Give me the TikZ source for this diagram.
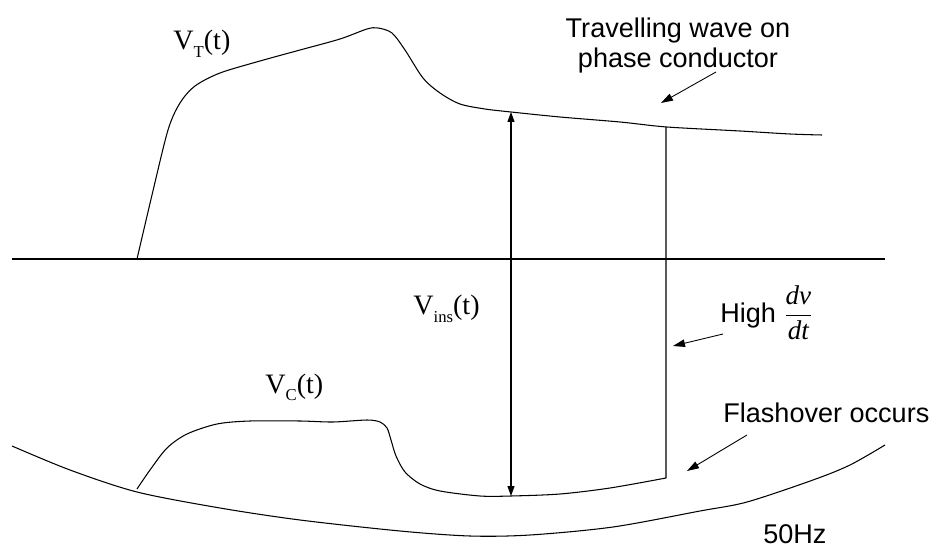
\documentclass[tikz,border=0pt]{standalone}
\usepackage{fontspec}
\setmainfont{Liberation Sans}
\newfontfamily\wavefont{Liberation Serif}
\usepackage{tikz}
\usetikzlibrary{arrows.meta}

\newcommand{\lowsub}[1]{\raisebox{-4pt}{\fontsize{9.5pt}{10pt}\selectfont #1}}

\begin{document}
\begin{tikzpicture}[x=0.02cm, y=-0.02cm,
    curve/.style={line width=0.6pt},
    pointer/.style={line width=0.5pt, -{Triangle[length=0.24cm, width=0.15cm]}},
    insarrow/.style={line width=0.6pt, {Triangle[length=0.2cm, width=0.14cm]}-{Triangle[length=0.2cm, width=0.14cm]}},
    txt/.style={font=\fontsize{15.4pt}{17.6pt}\selectfont, inner sep=0pt},
    vlabel/.style={font=\wavefont\fontsize{16pt}{18pt}\selectfont, inner sep=0pt, anchor=base west}]

  \useasboundingbox (0,0) rectangle (933,547);

  % Time axis
  \coordinate (axl) at (12,259);
  \coordinate (axr) at (885,259);
  \draw[curve] (axl) -- (axr);

  % Travelling wave on phase conductor
  \draw[curve] plot[smooth] coordinates {(137,259) (152,195) (168,130) (180,103)
      (195,86) (220,73) (260,61) (300,50) (340,39) (367,29) (378,28) (392,33)
      (405,50) (423,78) (440,93) (460,104) (485,109) (511,112) (560,117)
      (620,122) (667,127) (740,131) (790,134) (822,135)};
  \node[vlabel] (vt) at (173,50) {V\lowsub{T}(t)};

  % Voltage at the tower top, flashover jump
  \draw[curve] plot[smooth] coordinates {(137,489) (150,470) (167,448) (187,434)
      (217,424) (250,421) (300,421) (333,422) (367,420) (380,422) (387,428)
      (391,440) (396,456) (405,472) (420,484) (440,491) (480,496) (511,496)
      (560,494) (610,488) (666,478)} -- (666,127);
  \node[vlabel] (vc) at (265,393) {V\lowsub{C}(t)};

  % 50Hz power frequency voltage
  \draw[curve] plot[smooth] coordinates {(12,446) (70,470) (137,492) (220,508)
      (300,520) (400,531) (470,536) (530,535) (613,527) (700,511) (747,502)
      (813,480) (850,465) (885,445)};
  \node[txt, anchor=base west] (hz) at (763,543) {50Hz};

  % Voltage across insulator
  \coordinate (instop) at (511,112);
  \coordinate (insbot) at (511,496);
  \draw[insarrow] (instop) -- (insbot);
  \node[vlabel] (vins) at (413,315) {V\lowsub{ins}(t)};

  % Labels with pointers
  \node[txt, align=center, anchor=base] (tw) at (678,68) {Travelling wave on\\phase conductor};
  \coordinate (tw1) at (716,72);
  \coordinate (tw2) at (661,103);
  \draw[pointer] (tw1) -- (tw2);

  \node[txt, anchor=base west] (hdv) at (720,322)
      {High $\displaystyle\frac{\hbox{\wavefont\itshape dv}}{\hbox{\wavefont\itshape dt}}$};
  \coordinate (hdv1) at (723,334);
  \coordinate (hdv2) at (673,346);
  \draw[pointer] (hdv1) -- (hdv2);

  \node[txt, anchor=base west] (flash) at (723,422) {Flashover occurs};
  \coordinate (fl1) at (747,435);
  \coordinate (fl2) at (687,471);
  \draw[pointer] (fl1) -- (fl2);
\end{tikzpicture}
\end{document}
